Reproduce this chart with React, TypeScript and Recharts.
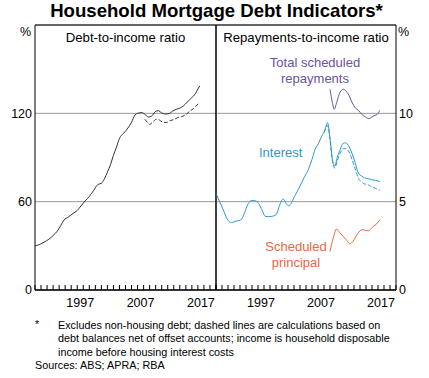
import { LineChart, Line, XAxis, YAxis, CartesianGrid, ReferenceArea } from 'recharts';

// debt-to-income ratio, per cent
const debtToIncome = [
  [1990.0, 30], [1990.8, 31], [1991.5, 32.5], [1992.3, 34.5], [1993.0, 37], [1993.7, 40],
  [1994.3, 44], [1994.8, 47.5], [1995.5, 49.5], [1996.3, 52], [1997.0, 54], [1997.6, 57],
  [1998.3, 60.5], [1999.0, 63.5], [1999.7, 67.5], [2000.4, 71.6], [2001.0, 72.5], [2001.5, 75.5],
  [2002.0, 80], [2002.5, 85], [2003.0, 91.5], [2003.5, 97], [2004.0, 103], [2004.7, 106.5],
  [2005.4, 110], [2006.0, 114], [2006.6, 119], [2007.0, 120], [2007.7, 120.5], [2008.3, 119],
  [2008.8, 117.5], [2009.3, 118], [2009.9, 121], [2010.4, 121.8], [2011.0, 120.3], [2011.6, 119.5],
  [2012.2, 119.8], [2012.8, 121.5], [2013.4, 122.7], [2014.0, 123.5], [2014.6, 125], [2015.2, 127.5],
  [2015.7, 129.5], [2016.2, 131.5], [2016.6, 133.5], [2017.0, 136.5], [2017.3, 138.6],
];

// net of offset accounts (dashed)
const debtToIncomeNet = [
  [2008.2, 116], [2008.6, 114], [2009.0, 112.5], [2009.5, 114], [2010.1, 116], [2010.6, 115.5],
  [2011.2, 114], [2011.8, 113.8], [2012.4, 115], [2013.0, 115.8], [2013.6, 117], [2014.3, 117.8],
  [2015.1, 119.3], [2015.6, 121.5], [2016.2, 123], [2016.7, 125], [2017.3, 127.3],
];

const interest = [
  [1990.1, 5.4], [1990.6, 5.0], [1991.2, 4.55], [1991.9, 4.0], [1992.6, 3.82], [1993.3, 3.9],
  [1994.0, 3.94], [1994.5, 4.15], [1994.9, 4.5], [1995.4, 4.9], [1995.9, 5.07], [1996.5, 5.05],
  [1997.1, 4.9], [1997.7, 4.5], [1998.2, 4.17], [1998.8, 4.15], [1999.3, 4.17], [2000.0, 4.26],
  [2000.6, 4.8], [2001.2, 5.15], [2001.7, 4.9], [2002.1, 4.77], [2002.6, 4.95], [2003.1, 5.3],
  [2003.7, 5.68], [2004.3, 6.1], [2004.8, 6.44], [2005.4, 6.82], [2006.0, 7.4], [2006.5, 7.95],
  [2007.1, 8.3], [2007.6, 8.7], [2008.1, 9.0], [2008.6, 9.47], [2009.0, 8.6], [2009.4, 7.4],
  [2009.8, 7.0], [2010.2, 7.5], [2010.7, 7.95], [2011.2, 8.3], [2011.6, 8.33], [2012.2, 8.1],
  [2012.7, 7.7], [2013.2, 7.2], [2013.7, 6.63], [2014.3, 6.45], [2014.8, 6.34], [2015.4, 6.3],
  [2015.9, 6.25], [2016.6, 6.2], [2017.3, 6.15],
];

const interestNet = [
  [2008.0, 8.9], [2008.6, 9.3], [2009.0, 8.5], [2009.4, 7.3], [2009.8, 6.9], [2010.2, 7.3],
  [2010.7, 7.75], [2011.2, 8.0], [2011.6, 8.0], [2012.2, 7.8], [2012.7, 7.35], [2013.2, 6.85],
  [2013.7, 6.35], [2014.3, 6.1], [2014.8, 6.0], [2015.4, 5.95], [2015.9, 5.85], [2016.6, 5.75],
  [2017.3, 5.65],
];

const totalRepayments = [
  [2009.0, 11.36], [2009.4, 10.6], [2009.7, 10.23], [2010.1, 10.6], [2010.5, 11.05], [2010.9, 11.3],
  [2011.3, 11.36], [2011.8, 11.2], [2012.2, 11.0], [2012.7, 10.6], [2013.2, 10.32], [2013.8, 10.15],
  [2014.3, 9.94], [2014.9, 9.8], [2015.5, 9.7], [2016.0, 9.8], [2016.5, 9.89], [2016.9, 9.95],
  [2017.3, 10.17],
];

const principal = [
  [2009.0, 2.18], [2009.5, 2.9], [2010.1, 3.45], [2010.6, 3.25], [2011.2, 3.03], [2011.8, 2.8],
  [2012.3, 2.61], [2012.8, 2.75], [2013.5, 3.13], [2014.0, 3.35], [2014.3, 3.41], [2014.9, 3.38],
  [2015.4, 3.35], [2015.9, 3.48], [2016.2, 3.6], [2016.8, 3.75], [2017.3, 3.98],
];

const yearLabels = [1997, 2007, 2017];
const leftTicks = [0, 60, 120];
const rightTicks = [0, 5, 10];

const FONT = '"Liberation Sans", Arial, sans-serif';
const BLUE = '#2d96d0';
const PURPLE = '#6a52a0';
const ORANGE = '#e8683f';

const toPoints = (rows: number[][]) => rows.map(([year, value]) => ({ year, value }));

// one tick per year, plus label positions mid-year
const xTicks: number[] = [];
for (let y = 1990; y <= 2020; y++) xTicks.push(y);
yearLabels.forEach(y => xTicks.push(y + 0.5));

function YearTick(props: any) {
  const { x, y, payload } = props;
  const v = payload.value;
  if (Number.isInteger(v)) {
    return <line x1={x} x2={x} y1={y - 5} y2={y} stroke="#000" strokeWidth={1} />;
  }
  return (
    <text x={x} y={y + 17} textAnchor="middle" fontSize={12.5} fontFamily={FONT} fill="#000">
      {Math.floor(v)}
    </text>
  );
}

function Panel({ side, children }: { side: 'left' | 'right'; children: any }) {
  const isLeft = side === 'left';
  return (
    <LineChart
      width={isLeft ? 217 : 214}
      height={378}
      margin={{ top: 25, right: isLeft ? 1 : 0, left: isLeft ? 0 : 1, bottom: 68 }}
    >
      <CartesianGrid horizontal vertical={false} stroke="#999" />
      <XAxis
        dataKey="year"
        type="number"
        domain={[1990, 2020]}
        ticks={xTicks}
        interval={0}
        allowDataOverflow
        height={20}
        tickSize={0}
        tickMargin={0}
        tickLine={false}
        axisLine={{ stroke: '#000' }}
        tick={<YearTick />}
      />
      <YAxis
        type="number"
        orientation={isLeft ? 'left' : 'right'}
        domain={isLeft ? [0, 180] : [0, 15]}
        ticks={isLeft ? leftTicks : rightTicks}
        interval={0}
        width={isLeft ? 35 : 33}
        tickSize={0}
        tickMargin={3}
        tickLine={false}
        axisLine={false}
        tick={{ fontSize: 12.5, fontFamily: FONT, fill: '#000' }}
      />
      <ReferenceArea x1={1990} x2={2020} y1={0} y2={isLeft ? 180 : 15} fill="none" stroke="#000" strokeWidth={1} />
      {children}
    </LineChart>
  );
}

const textStyle = (left: number, top: number, extra: any = {}) => ({
  position: 'absolute' as const,
  left,
  top,
  fontFamily: FONT,
  whiteSpace: 'nowrap' as const,
  lineHeight: 1,
  ...extra,
});

export default function App() {
  return (
    <div style={{ position: 'absolute', left: 0, top: 0, width: 429, height: 378, background: '#fff', overflow: 'hidden' }}>
      <div style={textStyle(0, 2, { width: 433, textAlign: 'center', fontSize: 18.6, fontWeight: 'bold' })}>
        Household Mortgage Debt Indicators*
      </div>

      <div style={{ position: 'absolute', left: 0, top: 0 }}>
        <Panel side="left">
          <Line data={toPoints(debtToIncome)} dataKey="value" type="monotone" stroke="#333" strokeWidth={1} dot={false} isAnimationActive={false} />
          <Line data={toPoints(debtToIncomeNet)} dataKey="value" type="monotone" stroke="#333" strokeWidth={1} strokeDasharray="4 2" dot={false} isAnimationActive={false} />
        </Panel>
      </div>
      <div style={{ position: 'absolute', left: 215, top: 0 }}>
        <Panel side="right">
          <Line data={toPoints(interest)} dataKey="value" type="monotone" stroke={BLUE} strokeWidth={1} dot={false} isAnimationActive={false} />
          <Line data={toPoints(interestNet)} dataKey="value" type="monotone" stroke={BLUE} strokeWidth={1} strokeDasharray="4 2" dot={false} isAnimationActive={false} />
          <Line data={toPoints(totalRepayments)} dataKey="value" type="monotone" stroke={PURPLE} strokeWidth={1} dot={false} isAnimationActive={false} />
          <Line data={toPoints(principal)} dataKey="value" type="monotone" stroke={ORANGE} strokeWidth={1} dot={false} isAnimationActive={false} />
        </Panel>
      </div>

      <div style={textStyle(20, 26, { fontSize: 12.5 })}>%</div>
      <div style={textStyle(398, 26, { fontSize: 12.5 })}>%</div>
      <div style={textStyle(35, 31, { width: 181, textAlign: 'center', fontSize: 13.2 })}>Debt-to-income ratio</div>
      <div style={textStyle(216, 31, { width: 180, textAlign: 'center', fontSize: 13.2 })}>Repayments-to-income ratio</div>

      <div style={textStyle(255, 55, { width: 120, textAlign: 'center', fontSize: 13, color: PURPLE, lineHeight: '16px' })}>
        Total scheduled<br />repayments
      </div>
      <div style={textStyle(259, 146, { fontSize: 13, color: BLUE })}>Interest</div>
      <div style={textStyle(246, 239, { width: 100, textAlign: 'center', fontSize: 13, color: ORANGE, lineHeight: '16px' })}>
        Scheduled<br />principal
      </div>

      <div style={textStyle(35, 319, { fontSize: 10.8 })}>*</div>
      <div style={textStyle(58, 319, { fontSize: 10.8, lineHeight: '13.3px' })}>
        Excludes non-housing debt; dashed lines are calculations based on<br />
        debt balances net of offset accounts; income is household disposable<br />
        income before housing interest costs
      </div>
      <div style={textStyle(35, 360, { fontSize: 10.8 })}>Sources: ABS; APRA; RBA</div>
    </div>
  );
}
